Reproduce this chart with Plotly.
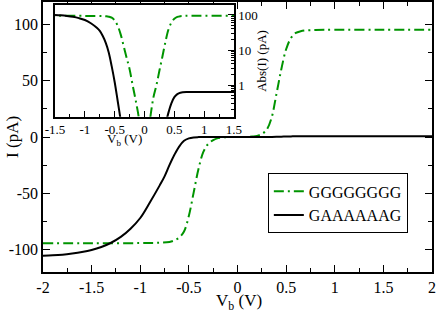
import numpy as np
import plotly.graph_objects as go

# GGGGGGGG (green, dash-dot)
v_g = [-2.0, -1.5, -1.0, -0.8, -0.7, -0.65, -0.6, -0.55, -0.5, -0.45, -0.4, -0.35, -0.3,
       -0.25, -0.2, -0.15, -0.1, -0.05, 0.05, 0.1, 0.15, 0.2, 0.25, 0.3, 0.35, 0.4, 0.45,
       0.5, 0.55, 0.6, 0.65, 0.7, 0.8, 1.0, 1.5, 2.0]
i_g = [-94.4, -94.4, -94.3, -94.0, -93.3, -92.0, -89.5, -84.0, -70.0, -49.0, -28.0, -13.0, -6.0,
       -2.8, -1.0, -0.38, -0.13, -0.03, 0.03, 0.13, 0.45, 1.0, 2.6, 6.5, 17.0, 38.0, 60.0,
       78.0, 88.0, 92.5, 94.0, 94.7, 95.1, 95.3, 95.3, 95.3]

# GAAAAAAG (black, solid)
v_a = [-2.0, -1.9, -1.8, -1.7, -1.6, -1.5, -1.4, -1.3, -1.2, -1.1, -1.0, -0.9, -0.8, -0.75,
       -0.7, -0.65, -0.6, -0.55, -0.5, -0.45, -0.4, -0.35, -0.3, -0.2, 0.2, 0.3, 0.35, 0.4,
       0.45, 0.5, 0.55, 0.6, 0.7, 1.0, 1.5, 2.0]
i_a = [-105.5, -105.2, -104.6, -103.6, -102.3, -100.5, -97.8, -94.0, -88.8, -81.5, -72.0, -58.0,
       -43.0, -35.0, -25.0, -16.0, -8.5, -3.4, -1.2, -0.35, -0.1, -0.03, -0.01, -0.003, 0.003,
       0.02, 0.07, 0.16, 0.3, 0.45, 0.55, 0.6, 0.63, 0.63, 0.63, 0.63]

names = ["GGGGGGGG", "GAAAAAAG"]
main_xticks = [-2, -1.5, -1, -0.5, 0, 0.5, 1, 1.5, 2]
main_xlabels = ["-2", "-1.5", "-1", "-0.5", "0", "0.5", "1", "1.5", "2"]
main_yticks = [-100, -50, 0, 50, 100]
main_ylabels = ["-100", "-50", "0", "50", "100"]
inset_xticks = [-1.5, -1, -0.5, 0, 0.5, 1, 1.5]
inset_xlabels = ["-1.5", "-1", "-0.5", "0", "0.5", "1", "1.5"]
inset_yticks = [1, 10, 100]
inset_ylabels = ["1", "10", "100"]

GREEN = "#009400"
SERIF = "Liberation Serif, Times New Roman, serif"
DASH = "10px,4px,2px,4px"

fig = go.Figure()
fig.add_trace(go.Scatter(x=v_g, y=i_g, mode="lines", name=names[0],
                         line=dict(color=GREEN, width=2, dash=DASH, shape="spline"),
                         xaxis="x", yaxis="y"))
fig.add_trace(go.Scatter(x=v_a, y=i_a, mode="lines", name=names[1],
                         line=dict(color="black", width=2, shape="spline"),
                         xaxis="x", yaxis="y"))
fig.add_trace(go.Scatter(x=v_g, y=np.abs(i_g), mode="lines", showlegend=False,
                         line=dict(color=GREEN, width=2, dash=DASH, shape="spline"),
                         xaxis="x2", yaxis="y2"))
fig.add_trace(go.Scatter(x=v_a, y=np.abs(i_a), mode="lines", showlegend=False,
                         line=dict(color="black", width=2, shape="spline"),
                         xaxis="x2", yaxis="y2"))

minor_log = [m * 10.0 ** e for e in (-1, 0, 1, 2) for m in range(2, 10)]

axis_common = dict(showline=True, linecolor="black", linewidth=1.5, ticks="inside",
                   tickcolor="black", showgrid=False, zeroline=False, automargin=False)
big = dict(family=SERIF, size=16, color="black")
small = dict(family=SERIF, size=13, color="black")

fig.update_layout(
    width=436, height=311,
    margin=dict(l=43, r=4, t=2, b=39, autoexpand=False),
    paper_bgcolor="white", plot_bgcolor="white",
    font=dict(family=SERIF, size=16, color="black"),
    xaxis=dict(**axis_common, range=[-2, 2], tickvals=main_xticks, ticktext=main_xlabels,
               mirror="ticks", ticklen=7, tickfont=big,
               minor=dict(dtick=0.25, ticks="inside", ticklen=4, tickcolor="black")),
    yaxis=dict(**axis_common, range=[-120, 120], tickvals=main_yticks, ticktext=main_ylabels,
               mirror="ticks", ticklen=7, tickfont=big,
               minor=dict(dtick=25, ticks="inside", ticklen=4, tickcolor="black")),
    xaxis2=dict(**axis_common, domain=[0.031, 0.491], anchor="y2", range=[-1.5, 1.5],
                tickvals=inset_xticks, ticktext=inset_xlabels, mirror=True, ticklen=6,
                tickfont=small,
                minor=dict(dtick=0.25, ticks="inside", ticklen=3, tickcolor="black")),
    yaxis2=dict(**axis_common, domain=[0.575, 0.989], anchor="x2", type="log",
                range=[-0.906, 2.286], side="right", mirror=True, tickvals=inset_yticks,
                ticktext=inset_ylabels, ticklen=6, tickfont=small,
                minor=dict(tickvals=minor_log, ticks="inside", ticklen=3, tickcolor="black")),
    legend=dict(x=0.578, y=0.254, xanchor="left", yanchor="middle",
                bordercolor="black", borderwidth=1, bgcolor="white",
                font=big, tracegroupgap=0, itemwidth=30),
    showlegend=True,
)

fig.add_annotation(text="I (pA)", xref="paper", yref="paper", x=-0.08, y=0.5,
                   textangle=-90, showarrow=False, font=dict(family=SERIF, size=17),
                   xanchor="center", yanchor="middle")
fig.add_annotation(text="V<sub>b</sub> (V)", xref="paper", yref="paper", x=0.503, y=-0.064,
                   showarrow=False, font=dict(family=SERIF, size=17),
                   xanchor="center", yanchor="top")
fig.add_annotation(text="V<sub>b</sub> (V)", xref="paper", yref="paper", x=0.21, y=0.528,
                   showarrow=False, font=small, xanchor="center", yanchor="top")
fig.add_annotation(text="Abs(I) (pA)", xref="paper", yref="paper", x=0.563, y=0.782,
                   textangle=-90, showarrow=False, font=small,
                   xanchor="center", yanchor="middle")

fig.write_html("out.html", config={"displayModeBar": False},
               post_script="document.body.style.margin='0px';")
